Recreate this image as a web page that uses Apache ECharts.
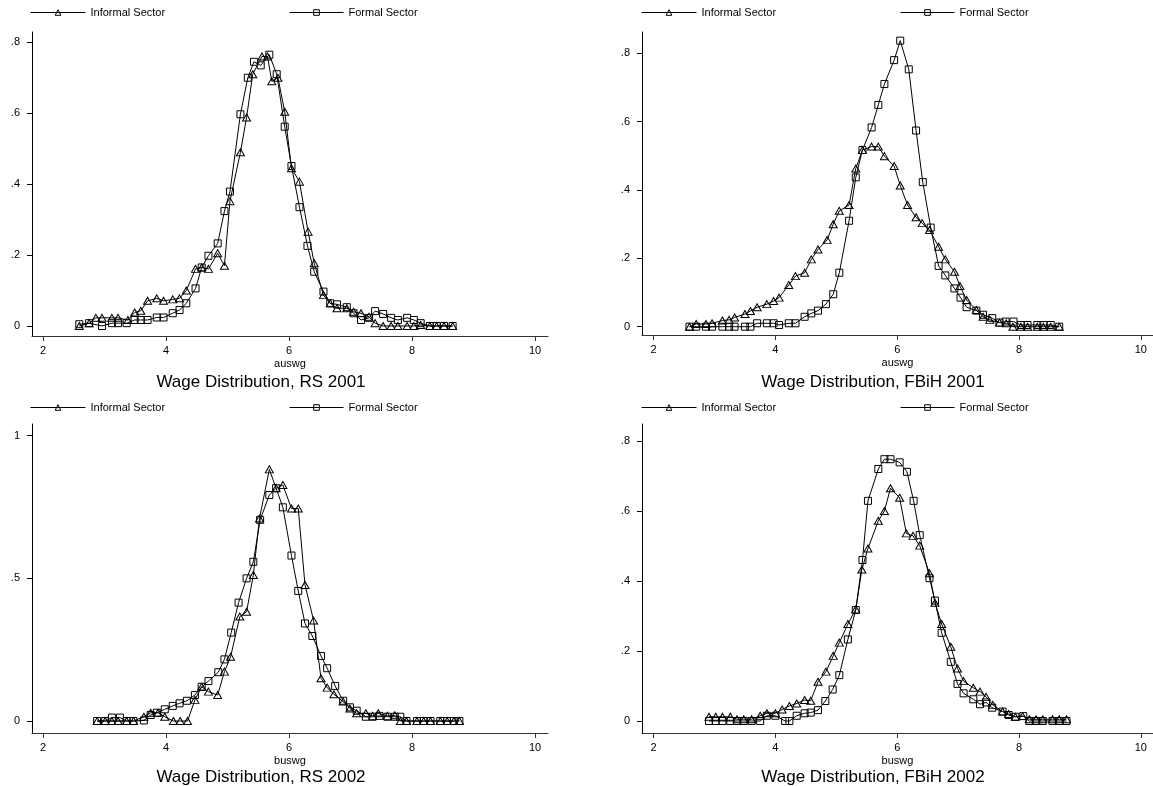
<!DOCTYPE html>
<html>
<head>
<meta charset="utf-8">
<title>Wage Distribution</title>
<script src="https://cdn.jsdelivr.net/npm/echarts@6/dist/echarts.min.js"></script>
<style>
    html, body { margin: 0; padding: 0; background: #fff; }
    #chart { width: 1153px; height: 786px; }
</style>
</head>
<body>
<div id="chart"></div>
<script>
// RS 2001 (auswg)
var rs01InfX = [2.59,2.75,2.86,2.96,3.12,3.22,3.38,3.49,3.59,3.70,3.85,3.96,4.11,4.22,4.33,4.48,4.58,4.69,4.84,4.95,5.04,5.21,5.31,5.41,5.56,5.65,5.72,5.82,5.93,6.04,6.17,6.31,6.41,6.56,6.67,6.78,6.94,7.05,7.17,7.30,7.40,7.53,7.66,7.77,7.92,8.03,8.14,8.29,8.40,8.52,8.66];
var rs01InfY = [0,0.008,0.023,0.023,0.023,0.023,0.017,0.038,0.043,0.071,0.078,0.071,0.075,0.078,0.10,0.161,0.165,0.161,0.205,0.17,0.352,0.49,0.588,0.71,0.76,0.76,0.69,0.70,0.604,0.445,0.407,0.266,0.177,0.087,0.064,0.05,0.05,0.04,0.036,0.026,0.008,0,0,0,0,0,0.003,0,0,0,0];
var rs01ForX = [2.59,2.75,2.96,3.12,3.22,3.36,3.49,3.59,3.70,3.85,3.96,4.11,4.22,4.33,4.48,4.58,4.69,4.84,4.95,5.04,5.21,5.33,5.43,5.54,5.68,5.80,5.93,6.04,6.17,6.30,6.41,6.56,6.67,6.78,6.94,7.05,7.17,7.30,7.40,7.53,7.66,7.77,7.92,8.03,8.14,8.29,8.40,8.52,8.66];
var rs01ForY = [0.005,0.008,0,0.008,0.008,0.008,0.017,0.017,0.017,0.024,0.024,0.036,0.045,0.064,0.106,0.165,0.198,0.233,0.324,0.379,0.597,0.70,0.745,0.735,0.765,0.71,0.562,0.451,0.335,0.226,0.153,0.097,0.064,0.061,0.053,0.036,0.017,0.023,0.042,0.034,0.023,0.017,0.023,0.017,0.008,0,0,0,0];

// FBiH 2001 (auswg)
var fb01InfX = [2.59,2.70,2.86,2.96,3.13,3.24,3.33,3.50,3.59,3.70,3.86,3.97,4.06,4.22,4.33,4.48,4.59,4.70,4.85,4.95,5.05,5.21,5.32,5.43,5.58,5.69,5.79,5.95,6.05,6.17,6.31,6.41,6.53,6.68,6.79,6.94,7.03,7.14,7.30,7.41,7.52,7.68,7.79,7.90,8.03,8.14,8.30,8.40,8.52,8.66];
var fb01InfY = [0,0.008,0.008,0.01,0.018,0.02,0.027,0.037,0.046,0.057,0.066,0.075,0.085,0.122,0.148,0.158,0.197,0.226,0.254,0.30,0.339,0.356,0.463,0.517,0.527,0.527,0.499,0.47,0.413,0.356,0.32,0.303,0.283,0.234,0.197,0.161,0.119,0.078,0.049,0.029,0.02,0.012,0.01,0,0,0,0,0,0,0];
var fb01ForX = [2.59,2.70,2.86,2.96,3.13,3.24,3.33,3.50,3.59,3.70,3.86,3.97,4.06,4.22,4.33,4.48,4.59,4.70,4.83,4.95,5.05,5.21,5.32,5.43,5.58,5.69,5.79,5.95,6.05,6.19,6.31,6.42,6.55,6.68,6.79,6.94,7.04,7.14,7.30,7.41,7.56,7.68,7.78,7.91,8.03,8.14,8.30,8.40,8.52,8.66];
var fb01ForY = [0,0,0,0,0,0,0,0,0,0.01,0.01,0.01,0.005,0.01,0.01,0.029,0.039,0.047,0.066,0.095,0.158,0.31,0.437,0.517,0.583,0.649,0.71,0.78,0.837,0.753,0.574,0.423,0.29,0.178,0.15,0.112,0.085,0.057,0.047,0.035,0.025,0.012,0.015,0.015,0.005,0.005,0.005,0.005,0.005,0];

// RS 2002 (buswg)
var rs02InfX = [2.88,3.01,3.12,3.22,3.36,3.47,3.64,3.75,3.87,3.98,4.12,4.23,4.35,4.47,4.58,4.69,4.84,4.95,5.05,5.20,5.31,5.42,5.52,5.68,5.79,5.90,6.04,6.15,6.26,6.40,6.52,6.62,6.73,6.88,6.99,7.10,7.25,7.36,7.45,7.60,7.72,7.81,7.91,8.08,8.19,8.30,8.46,8.57,8.68,8.77];
var rs02InfY = [0,0,0,0,0,0,0.015,0.029,0.029,0.015,0,0,0,0.074,0.12,0.103,0.091,0.173,0.225,0.366,0.383,0.512,0.71,0.882,0.816,0.827,0.745,0.745,0.477,0.352,0.15,0.117,0.094,0.068,0.044,0.027,0.027,0.018,0.027,0.018,0.02,0,0,0,0,0,0,0,0,0];
var rs02ForX = [2.88,3.01,3.12,3.25,3.36,3.47,3.64,3.75,3.85,3.98,4.11,4.22,4.34,4.47,4.58,4.69,4.85,4.95,5.06,5.18,5.31,5.42,5.53,5.68,5.79,5.90,6.04,6.15,6.26,6.38,6.52,6.62,6.75,6.88,6.99,7.10,7.25,7.36,7.47,7.60,7.72,7.81,7.91,8.08,8.19,8.30,8.46,8.57,8.68,8.77];
var rs02ForY = [0,0,0.012,0.012,0,0,0.002,0.021,0.029,0.041,0.053,0.062,0.071,0.091,0.12,0.14,0.171,0.216,0.31,0.415,0.50,0.558,0.705,0.792,0.816,0.749,0.58,0.456,0.342,0.298,0.228,0.185,0.123,0.071,0.048,0.036,0.015,0.015,0.018,0.015,0.015,0.015,0,0,0,0,0,0,0,0];

// FBiH 2002 (buswg)
var fb02InfX = [2.91,3.02,3.13,3.26,3.37,3.48,3.61,3.75,3.86,4.00,4.11,4.23,4.35,4.48,4.58,4.70,4.83,4.95,5.05,5.19,5.32,5.42,5.52,5.69,5.79,5.89,6.04,6.15,6.26,6.37,6.53,6.62,6.73,6.88,6.99,7.09,7.25,7.36,7.46,7.57,7.73,7.83,7.94,8.06,8.17,8.28,8.39,8.55,8.66,8.78];
var fb02InfY = [0.012,0.012,0.012,0.012,0.005,0.005,0.005,0.015,0.022,0.022,0.033,0.043,0.05,0.06,0.058,0.112,0.141,0.186,0.224,0.277,0.319,0.433,0.493,0.572,0.60,0.665,0.638,0.536,0.529,0.501,0.422,0.338,0.277,0.212,0.15,0.114,0.095,0.084,0.069,0.046,0.027,0.02,0.012,0.014,0.005,0.005,0.005,0.005,0.005,0.005];
var fb02ForX = [2.91,3.02,3.13,3.26,3.37,3.48,3.61,3.75,3.86,4.00,4.16,4.23,4.35,4.48,4.58,4.70,4.82,4.94,5.05,5.19,5.32,5.43,5.52,5.69,5.79,5.89,6.04,6.16,6.27,6.37,6.53,6.62,6.73,6.88,6.99,7.09,7.25,7.36,7.46,7.56,7.73,7.83,7.94,8.07,8.17,8.28,8.39,8.55,8.66,8.78];
var fb02ForY = [0,0,0,0,0,0,0,0,0.015,0.015,0,0,0.015,0.022,0.024,0.031,0.057,0.09,0.131,0.233,0.317,0.46,0.629,0.72,0.748,0.748,0.739,0.712,0.629,0.531,0.408,0.344,0.252,0.169,0.106,0.079,0.062,0.048,0.053,0.038,0.027,0.017,0.012,0.014,0,0,0,0,0,0];

var xTicks = [2, 4, 6, 8, 10];
var yTicksA = [0, 0.2, 0.4, 0.6, 0.8];
var yTicksB = [0, 0.5, 1];
var xNames = ['auswg', 'auswg', 'buswg', 'buswg'];
var panelTitles = ['Wage Distribution, RS 2001', 'Wage Distribution, FBiH 2001',
                   'Wage Distribution, RS 2002', 'Wage Distribution, FBiH 2002'];
var INF = 'Informal Sector', FOR = 'Formal Sector';

var FONT = 'Liberation Sans, Arial, sans-serif';

// panel boxes: [left, top, height, xmin, xmax, ymin, ymax]
var panels = [
    [32, 32, 304, 1.821, 10.211, -0.0282, 0.829],
    [642, 32, 303, 1.81, 10.2, -0.0243, 0.8623],
    [32, 424, 309, 1.821, 10.211, -0.042, 1.041],
    [642, 424, 309, 1.81, 10.2, -0.0343, 0.8486]
];
var yTickSets = [yTicksA, yTicksA, yTicksB, yTicksA];

function fmtY(v) {
    if (v === 0) return '0';
    if (v === 1) return '1';
    return String(+v.toFixed(2)).replace(/^0\./, '.');
}

function legendItem(name, left, top, w) {
    return {
        data: [name], left: left, top: top, padding: 0,
        itemWidth: w, itemHeight: 7, itemGap: 5, selectedMode: false,
        itemStyle: {color: 'rgba(255,255,255,0)', borderColor: '#000', borderWidth: 1},
        lineStyle: {color: '#000', width: 1},
        textStyle: {fontSize: 11, color: '#000', fontFamily: FONT}
    };
}

var grids = [], xAxes = [], yAxes = [], titles = [], legends = [];
panels.forEach(function(p, i) {
    grids.push({left: p[0], top: p[1], width: 516, height: p[2]});
    xAxes.push({
        type: 'value', gridIndex: i, min: p[3], max: p[4],
        name: xNames[i], nameLocation: 'middle', nameGap: 22,
        nameTextStyle: {fontSize: 11, color: '#000', fontFamily: FONT},
        axisLine: {show: true, onZero: false, lineStyle: {color: '#333', width: 1}},
        axisTick: {show: true, length: 5, customValues: xTicks, lineStyle: {color: '#333'}},
        axisLabel: {customValues: xTicks, fontSize: 11, color: '#000', margin: 9, fontFamily: FONT},
        splitLine: {show: false}
    });
    yAxes.push({
        type: 'value', gridIndex: i, min: p[5], max: p[6],
        axisLine: {show: true, onZero: false, lineStyle: {color: '#000', width: 1}},
        axisTick: {show: true, length: 5, customValues: yTickSets[i], lineStyle: {color: '#000'}},
        axisLabel: {customValues: yTickSets[i], fontSize: 11, color: '#000', margin: 12,
                    fontFamily: FONT, formatter: fmtY},
        splitLine: {show: false}
    });
    var col = i % 2 === 0 ? 0 : 1;
    var row = i < 2 ? 0 : 1;
    titles.push({
        text: panelTitles[i], left: col === 0 ? 256 : 868, top: row === 0 ? 369 : 764,
        textAlign: 'center',
        textStyle: {fontSize: 17, fontWeight: 'normal', color: '#000', fontFamily: FONT}
    });
    var lx = col === 0 ? 30 : 641;
    var ly = row === 0 ? 7 : 402;
    legends.push(legendItem(INF, lx, ly, 55));
    legends.push(legendItem(FOR, lx + 259, ly, 54));
});

function makeSeries(name, xs, ys, idx, symbol, size) {
    var data = xs.map(function(x, k) { return [x, ys[k]]; });
    return {
        name: name, type: 'line', xAxisIndex: idx, yAxisIndex: idx,
        data: data, symbol: symbol, symbolSize: size,
        showSymbol: true, showAllSymbol: true,
        lineStyle: {color: '#000', width: 1},
        itemStyle: {color: 'rgba(255,255,255,0)', borderColor: '#000', borderWidth: 1},
        emphasis: {disabled: true}
    };
}

var series = [
    makeSeries(INF, rs01InfX, rs01InfY, 0, 'triangle', [8, 7]),
    makeSeries(FOR, rs01ForX, rs01ForY, 0, 'rect', 7),
    makeSeries(INF, fb01InfX, fb01InfY, 1, 'triangle', [8, 7]),
    makeSeries(FOR, fb01ForX, fb01ForY, 1, 'rect', 7),
    makeSeries(INF, rs02InfX, rs02InfY, 2, 'triangle', [8, 7]),
    makeSeries(FOR, rs02ForX, rs02ForY, 2, 'rect', 7),
    makeSeries(INF, fb02InfX, fb02InfY, 3, 'triangle', [8, 7]),
    makeSeries(FOR, fb02ForX, fb02ForY, 3, 'rect', 7)
];

var chart = echarts.init(document.getElementById('chart'));
chart.setOption({
    animation: false,
    backgroundColor: '#fff',
    title: titles,
    legend: legends,
    grid: grids,
    xAxis: xAxes,
    yAxis: yAxes,
    series: series
});
</script>
</body>
</html>
